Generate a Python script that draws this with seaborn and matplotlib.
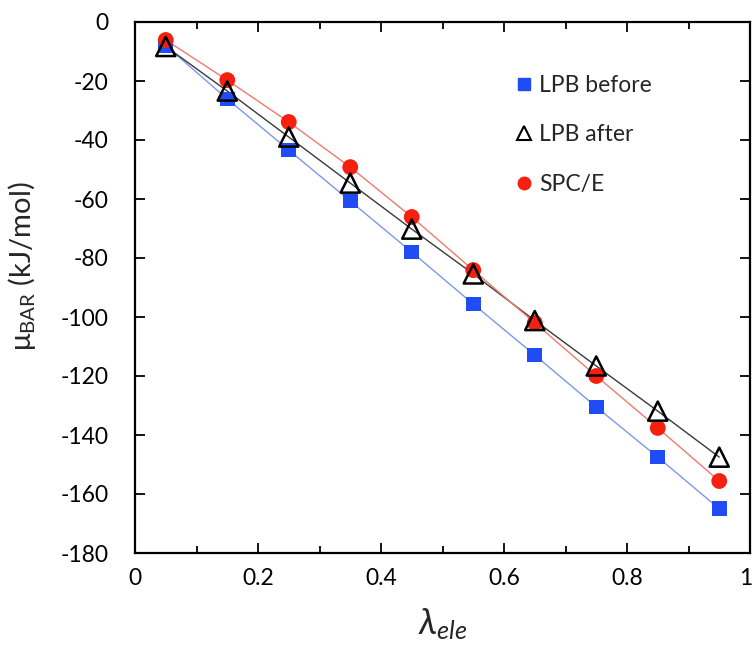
import numpy as np
import pandas as pd
import seaborn as sns
import matplotlib
matplotlib.use("Agg")
import matplotlib.pyplot as plt
import matplotlib.transforms as mtransforms
from matplotlib.ticker import MultipleLocator
from matplotlib.lines import Line2D

lam = [0.05, 0.15, 0.25, 0.35, 0.45, 0.55, 0.65, 0.75, 0.85, 0.95]
lpb_before = [-8.0, -26.1, -43.4, -60.7, -78.0, -95.6, -112.9, -130.5, -147.5, -165.0]
lpb_after = [-8.3, -23.4, -39.0, -54.6, -70.2, -85.4, -101.2, -116.6, -131.9, -147.5]
spce = [-6.1, -19.7, -33.9, -49.2, -66.1, -84.1, -102.0, -120.0, -137.6, -155.6]
series_names = ["LPB before", "LPB after", "SPC/E"]
x_ticks = [0, 0.2, 0.4, 0.6, 0.8, 1.0]
x_ticklabels = ["0", "0.2", "0.4", "0.6", "0.8", "1"]

df = pd.DataFrame({
    "lam": lam * 3,
    "mu": lpb_before + lpb_after + spce,
    "series": [s for s in series_names for _ in lam],
})

sns.set_theme(style="ticks")
plt.rcParams["font.family"] = ["Lato", "DejaVu Sans"]
plt.rcParams["axes.unicode_minus"] = False
plt.rcParams["mathtext.fontset"] = "custom"
plt.rcParams["mathtext.it"] = "Lato:italic"
plt.rcParams["mathtext.rm"] = "Lato"

fig = plt.figure(figsize=(7.56, 6.58), dpi=100)
ax = fig.add_axes([135/756, 1 - 553/658, (750-135)/756, (553-22)/658])

line_colors = {"LPB before": "#7c98e8", "LPB after": "#3a3a3a", "SPC/E": "#f07a6e"}
sns.lineplot(data=df, x="lam", y="mu", hue="series", palette=line_colors,
             hue_order=series_names, linewidth=1.0, legend=False, ax=ax, zorder=2)

d_b = df[df.series == "LPB before"]
d_a = df[df.series == "LPB after"]
d_s = df[df.series == "SPC/E"]
sns.scatterplot(data=d_b, x="lam", y="mu", marker="s", color="#1f4cf5", s=110,
                edgecolor="none", ax=ax, zorder=3)
sns.scatterplot(data=d_s, x="lam", y="mu", marker="o", color="#f5200f", s=130,
                edgecolor="none", ax=ax, zorder=4)
ax.scatter(d_a["lam"], d_a["mu"], marker="^", s=190, facecolors="none",
           edgecolors="black", linewidths=1.8, zorder=5)

ax.set_xlim(0, 1)
ax.set_ylim(-180, 0)
ax.xaxis.set_minor_locator(MultipleLocator(0.1))
ax.yaxis.set_major_locator(MultipleLocator(20))
ax.set_xticks(x_ticks)
ax.set_xticklabels(x_ticklabels)
ax.tick_params(which="both", direction="in", top=True, right=True, width=1.3,
               labelsize=16.5, colors="black")
ax.tick_params(which="major", length=7)
ax.tick_params(which="minor", length=5)
ax.tick_params(axis="x", pad=11)
ax.tick_params(axis="y", pad=19)
for sp in ax.spines.values():
    sp.set_linewidth(1.6)
    sp.set_color("black")

last = ax.get_xticklabels()[-1]
last.set_transform(last.get_transform() +
                   mtransforms.ScaledTranslation(-4/100, 0, fig.dpi_scale_trans))

ax.set_xlabel(r"$\lambda_{ele}$", fontsize=26)
ax.set_ylabel(r"μ$_{\mathrm{BAR}}$ (kJ/mol)", fontsize=21)
ax.yaxis.set_label_coords(-0.158, 0.54)
ax.xaxis.set_label_coords(0.5, -0.1)
ax.xaxis.label.set_va("top")

handles = [
    Line2D([], [], linestyle="none", marker="s", color="#1f4cf5", markersize=9),
    Line2D([], [], linestyle="none", marker="^", markerfacecolor="none",
           markeredgecolor="black", markeredgewidth=1.5, markersize=10),
    Line2D([], [], linestyle="none", marker="o", color="#f5200f", markersize=9),
]
ax.legend(handles, series_names, loc="upper left", bbox_to_anchor=(0.607, 0.918),
          frameon=False, fontsize=16.5, handlelength=0.6, handletextpad=0.35,
          labelspacing=1.25, borderaxespad=0)

fig.savefig("out.png", dpi=100, facecolor="white")
